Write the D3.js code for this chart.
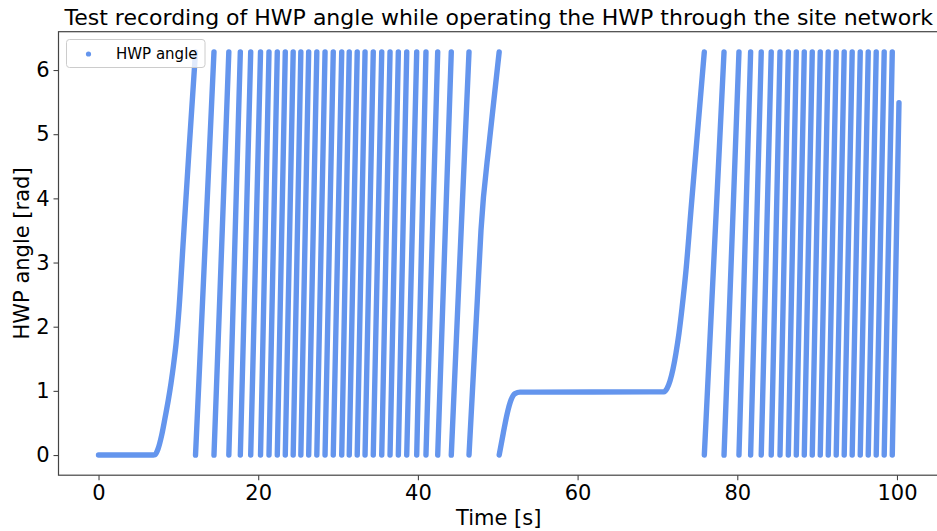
<!DOCTYPE html>
<html>
<head>
<meta charset="utf-8">
<script src="https://cdn.jsdelivr.net/npm/d3@7"></script>
<style>
  html, body { margin: 0; padding: 0; background: #fff; }
  svg { display: block; font-family: "DejaVu Sans", sans-serif; }
</style>
</head>
<body>
<svg id="chart" width="937" height="531"></svg>
<script>
// ---------------- data ----------------
const FULL_TURN = 6.283;   // wrap value of the angle [rad]

// spin-up from rest: time [s] and angle [rad]
const startCurveT = [0, 6.86, 7.08, 7.45, 7.915, 8.328, 8.741, 9.080, 9.393, 9.730, 10.081, 10.62, 11.334, 12.148];
const startCurveV = [0, 0, 0.005, 0.094, 0.312, 0.577, 0.857, 1.122, 1.403, 1.760, 2.280, 3.35, 4.75, FULL_TURN];

// times at which the angle wraps from 2π back to 0 (first rotation run)
const wrapTimesRun1 = [12.148, 14.46, 16.32, 17.76, 19.06, 20.29, 21.35, 22.39, 23.39, 24.38,
  25.34, 26.32, 27.34, 28.37, 29.40, 30.46, 31.40, 32.40, 33.38, 34.41, 35.47, 36.51,
  37.55, 38.60, 39.85, 41.01, 42.48, 44.18, 46.40];

// last slow turn before stopping
const slowTurnT = [46.40, 47.44, 47.90, 48.97, 50.18];
const slowTurnV = [0, 2.41, 3.50, 4.91, FULL_TURN];

// stop, plateau and spin-up again
const plateauT = [50.18, 50.69, 51.19, 51.66, 52.16, 52.79, 70.82, 71.20, 71.57, 71.95, 72.32, 72.70, 73.08, 73.58, 74.20, 75.02, 75.87];
const plateauV = [0, 0.34, 0.65, 0.857, 0.958, 0.98, 0.985, 1.036, 1.153, 1.340, 1.589, 1.901, 2.291, 2.883, 3.818, 5.034, FULL_TURN];

// wrap times of the second rotation run
const wrapTimesRun2 = [75.87, 78.34, 80.21, 81.67, 83.00, 84.25, 85.35, 86.39, 87.39, 88.39,
  89.39, 90.39, 91.39, 92.39, 93.39, 94.39, 95.40, 96.40, 97.40, 98.40, 99.41];

// last recorded sample
const lastSampleT = 100.25;
const lastSampleV = 5.49;

const xTicks = [0, 20, 40, 60, 80, 100];
const yTicks = [0, 1, 2, 3, 4, 5, 6];

const titleText = "Test recording of HWP angle while operating the HWP through the site network";
const xLabel = "Time [s]";
const yLabel = "HWP angle [rad]";
const legendLabel = "HWP angle";

// ---------------- build segments ----------------
const zip = (a, b) => a.map((t, i) => [t, b[i]]);
const segments = [];
segments.push(zip(startCurveT, startCurveV));
for (let i = 0; i < wrapTimesRun1.length - 1; i++) {
  segments.push([[wrapTimesRun1[i], 0], [wrapTimesRun1[i + 1], FULL_TURN]]);
}
segments.push(zip(slowTurnT, slowTurnV));
segments.push(zip(plateauT, plateauV));
for (let i = 0; i < wrapTimesRun2.length - 1; i++) {
  segments.push([[wrapTimesRun2[i], 0], [wrapTimesRun2[i + 1], FULL_TURN]]);
}
segments.push([[wrapTimesRun2[wrapTimesRun2.length - 1], 0], [lastSampleT, lastSampleV]]);

// ---------------- scales ----------------
const allPts = segments.flat();
const xMin = d3.min(allPts, d => d[0]), xMax = d3.max(allPts, d => d[0]);
const yMin = d3.min(allPts, d => d[1]), yMax = d3.max(allPts, d => d[1]);
const xm = (xMax - xMin) * 0.05, ym = (yMax - yMin) * 0.05;

const pLeft = 58.5, pRight = 939, pTop = 31.7, pBottom = 475.2;
const x = d3.scaleLinear().domain([xMin - xm, xMax + xm]).range([pLeft, pRight]);
const y = d3.scaleLinear().domain([yMin - ym, yMax + ym]).range([pBottom, pTop]);

const svg = d3.select("#chart");
const COLOR = "#6495ED";
const AXIS = "#444";

// data
const line = d3.line().x(d => x(d[0])).y(d => y(d[1])).curve(d3.curveMonotoneX);
svg.append("g").selectAll("path").data(segments).join("path")
  .attr("d", line)
  .attr("fill", "none")
  .attr("stroke", COLOR)
  .attr("stroke-width", 5.4)
  .attr("stroke-linecap", "round")
  .attr("stroke-linejoin", "round");

// frame
svg.append("rect")
  .attr("x", pLeft).attr("y", pTop)
  .attr("width", pRight - pLeft).attr("height", pBottom - pTop)
  .attr("fill", "none").attr("stroke", AXIS).attr("stroke-width", 1.2);

// axes
const gx = svg.append("g").attr("transform", `translate(0,${pBottom})`)
  .call(d3.axisBottom(x).tickValues(xTicks).tickSize(5).tickPadding(5).tickFormat(d3.format("d")));
const gy = svg.append("g").attr("transform", `translate(${pLeft},0)`)
  .call(d3.axisLeft(y).tickValues(yTicks).tickSize(5).tickPadding(4).tickFormat(d3.format("d")));
[gx, gy].forEach(g => {
  g.select(".domain").remove();
  g.selectAll(".tick line").attr("stroke", AXIS).attr("stroke-width", 1.1);
  g.selectAll(".tick text").attr("fill", "#000")
    .style("font-size", "21px").style("font-family", "DejaVu Sans, sans-serif");
});

// title and axis labels
svg.append("text")
  .attr("x", (pLeft + pRight) / 2).attr("y", 25)
  .attr("text-anchor", "middle")
  .style("font-size", "22px").attr("fill", "#000")
  .text(titleText);

svg.append("text")
  .attr("x", (pLeft + pRight) / 2).attr("y", 525)
  .attr("text-anchor", "middle")
  .style("font-size", "21px").attr("fill", "#000")
  .text(xLabel);

svg.append("text")
  .attr("transform", `translate(29,${(pTop + pBottom) / 2}) rotate(-90)`)
  .attr("text-anchor", "middle")
  .style("font-size", "21px").attr("fill", "#000")
  .text(yLabel);

// legend
const lg = svg.append("g");
lg.append("rect")
  .attr("x", 66.5).attr("y", 39.5).attr("width", 138.5).attr("height", 28)
  .attr("rx", 3).attr("fill", "#fff").attr("fill-opacity", 0.8)
  .attr("stroke", "#ccc").attr("stroke-width", 1);
lg.append("circle").attr("cx", 88.5).attr("cy", 54).attr("r", 2.6).attr("fill", COLOR);
lg.append("text").attr("x", 116).attr("y", 59.3)
  .style("font-size", "15px").attr("fill", "#000").text(legendLabel);
</script>
</body>
</html>
